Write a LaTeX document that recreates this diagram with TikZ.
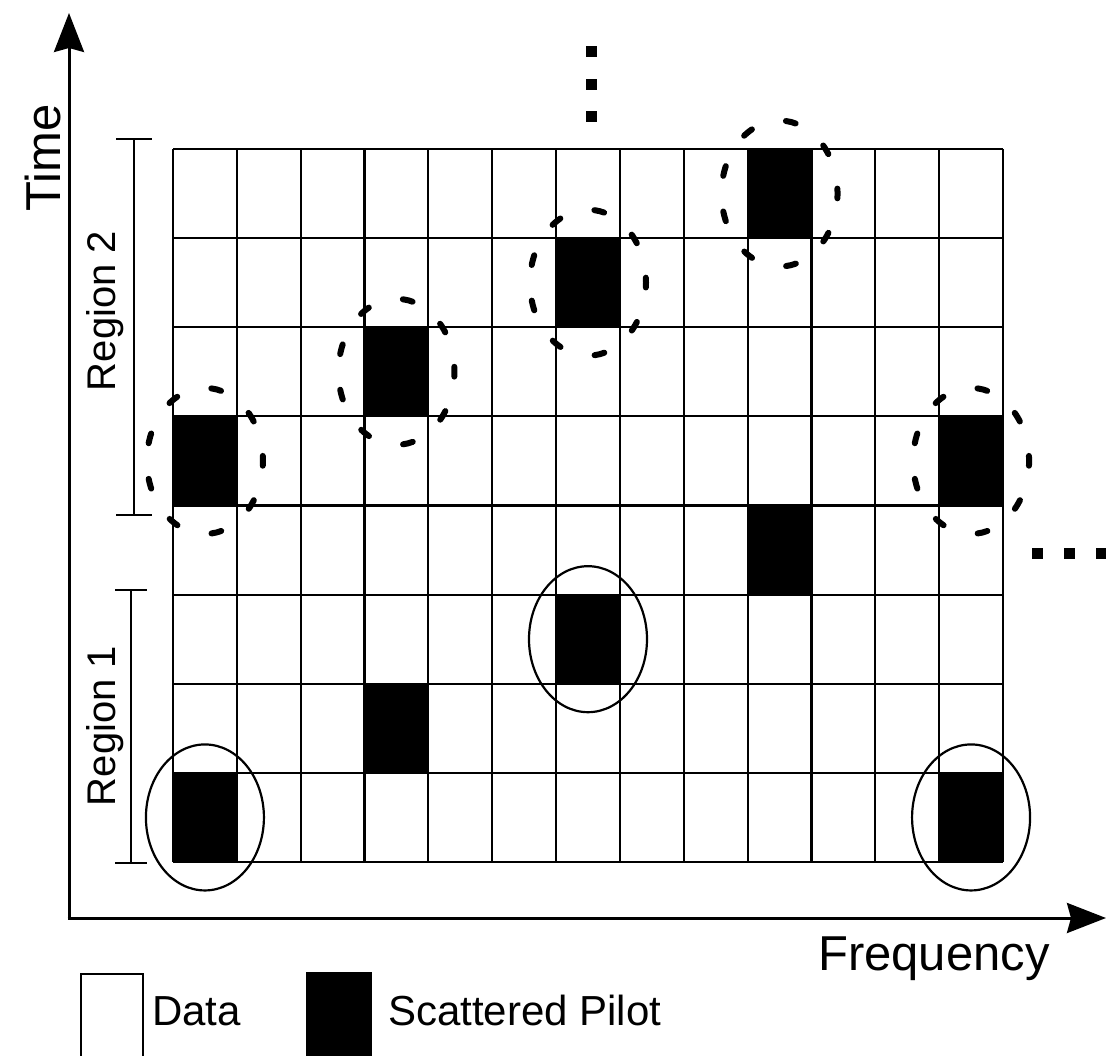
\documentclass[tikz,border=0pt]{standalone}
\usepackage{fontspec}
\setmainfont{Liberation Sans}
\usetikzlibrary{arrows.meta}
\begin{document}
\begin{tikzpicture}[x=1pt,y=-1pt,
  gridline/.style={line width=2.2pt},
  pilotcell/.style={fill=black},
  solidring/.style={line width=2.2pt},
  dashring/.style={line width=6pt, line cap=round, dash pattern=on 10pt off 35.9pt, dash phase=5pt},
  axisline/.style={line width=3pt, -{Stealth[length=39pt,width=30pt,inset=4pt]}},
  bracketline/.style={line width=2.5pt},
  dotsq/.style={fill=black},
  bigtext/.style={inner sep=0pt, font=\fontsize{49}{58}\selectfont},
  regtext/.style={inner sep=0pt, font=\fontsize{40}{48}\selectfont},
  legtext/.style={inner sep=0pt, font=\fontsize{42}{50}\selectfont},
]
\useasboundingbox (0,0) rectangle (1106,1056);
\def\cw{63.846}
\def\ch{89.125}
% pilot cells
\foreach \c/\r in {9/0,6/1,3/2,0/3,12/3,9/4,6/5,3/6,0/7,12/7}
  \fill[pilotcell] ({173+\c*\cw},{149+\r*\ch}) rectangle ++(\cw,\ch);
% grid
\foreach \i in {0,...,13}
  \draw[gridline] ({173+\i*\cw},149) -- ({173+\i*\cw},862);
\foreach \j in {0,...,8}
  \draw[gridline] (173,{149+\j*\ch}) -- (1003,{149+\j*\ch});
% solid rings (region 1)
\foreach \c/\r in {0/7,6/5,12/7}
  \draw[solidring] ({173+(\c+0.5)*\cw},{149+(\r+0.5)*\ch}) ellipse [x radius=59pt, y radius=73pt];
% dashed rings (region 2)
\foreach \c/\r in {0/3,3/2,6/1,9/0,12/3}
  \draw[dashring] ({173+(\c+0.5)*\cw},{149+(\r+0.5)*\ch}) ellipse [x radius=58pt, y radius=73pt];
% axes
\coordinate (vstart) at (69,919.5);
\coordinate (vtip) at (69,13);
\coordinate (hstart) at (67.5,918);
\coordinate (htip) at (1106,918);
\draw[axisline] (vstart) -- (vtip);
\draw[axisline] (hstart) -- (htip);
% brackets
\draw[bracketline] (116,139) -- (152,139) (134,139) -- (134,515) (116,515) -- (152,515);
\draw[bracketline] (115,590) -- (147,590) (131,590) -- (131,863) (115,863) -- (147,863);
% continuation dots
\foreach \y in {52,85,117}
  \fill[dotsq] (586,{\y-5.5}) rectangle ++(11,11);
\foreach \x in {1037,1069,1101}
  \fill[dotsq] ({\x-5.5},547.5) rectangle ++(11,11);
% labels
\node[bigtext, rotate=90, anchor=base] (timelabel) at (60,158) {Time};
\node[bigtext, anchor=base west] (freqlabel) at (818,970) {Frequency};
\node[regtext, rotate=90, anchor=base] (region2) at (115,311) {Region 2};
\node[regtext, rotate=90, anchor=base] (region1) at (115,726) {Region 1};
% legend
\draw[line width=2.2pt] (81,1070) -- (81,974) -- (143,974) -- (143,1070);
\fill[black] (306,972) rectangle (372,1070);
\node[legtext, anchor=base west] (datalabel) at (152,1025) {Data};
\node[legtext, anchor=base west] (pilotlabel) at (388,1025) {Scattered Pilot};
\end{tikzpicture}
\end{document}
